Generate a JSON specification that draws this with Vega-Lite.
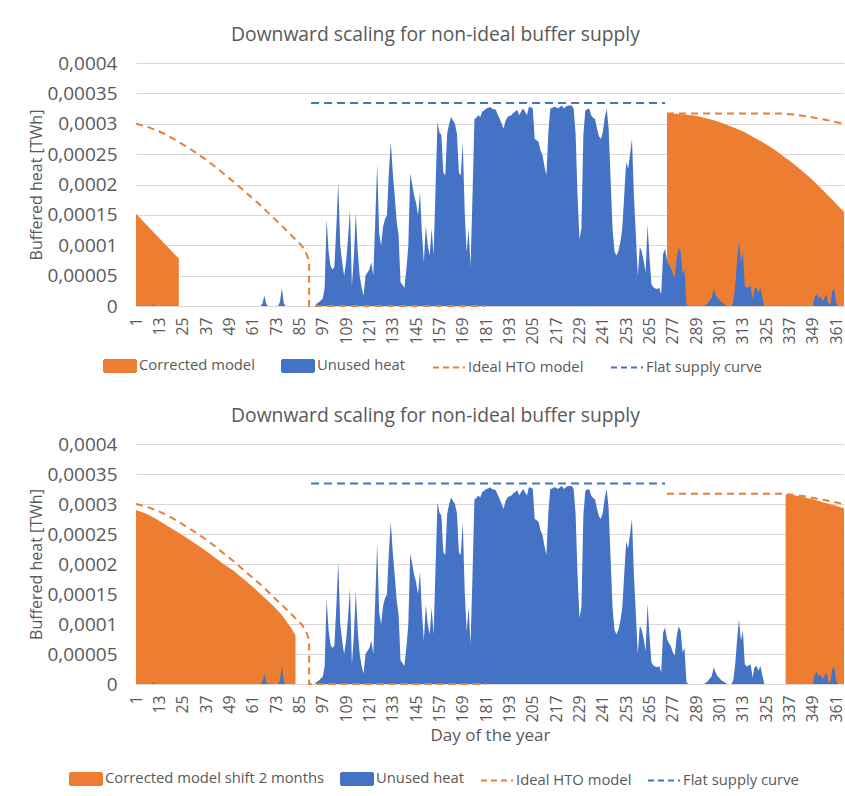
{
  "$schema": "https://vega.github.io/schema/vega-lite/v6.json",
  "background": "white",
  "padding": {"left": 28, "top": 25, "right": 0, "bottom": 0},
  "autosize": {"type": "pad"},
  "config": {
    "font": "Open Sans",
    "view": {"stroke": null},
    "axis": {"labelColor": "#595959", "titleColor": "#595959", "labelFont": "Open Sans", "titleFont": "Open Sans", "titleFontWeight": "normal", "gridColor": "#d9d9d9", "domainColor": "#d9d9d9", "ticks": false},
    "title": {"color": "#595959", "fontWeight": "normal", "fontSize": 19.3, "font": "Open Sans", "frame": "bounds", "anchor": "middle", "offset": 9, "dx": -3},
    "legend": {"labelColor": "#595959", "labelFont": "Open Sans", "labelFontSize": 14.8, "labelLimit": 400}
  },
  "datasets": {
    "unused": [
      {"d":1,"v":0},{"d":2,"v":0},{"d":3,"v":0},{"d":4,"v":0},{"d":5,"v":0},{"d":6,"v":0},{"d":7,"v":0},{"d":8,"v":0},{"d":9,"v":0},{"d":10,"v":0.3e-5},
      {"d":11,"v":0},{"d":12,"v":0},{"d":13,"v":0},{"d":14,"v":0},{"d":15,"v":0},{"d":16,"v":0},{"d":17,"v":0},{"d":18,"v":0},{"d":19,"v":0},{"d":20,"v":0},
      {"d":21,"v":0},{"d":22,"v":0},{"d":23,"v":0},{"d":24,"v":0},{"d":25,"v":0},{"d":26,"v":0},{"d":27,"v":0},{"d":28,"v":0},{"d":29,"v":0},{"d":30,"v":0},
      {"d":31,"v":0},{"d":32,"v":0},{"d":33,"v":0},{"d":34,"v":0},{"d":35,"v":0},{"d":36,"v":0},{"d":37,"v":0},{"d":38,"v":0},{"d":39,"v":0},{"d":40,"v":0},
      {"d":41,"v":0},{"d":42,"v":0},{"d":43,"v":0},{"d":44,"v":0},{"d":45,"v":0},{"d":46,"v":0},{"d":47,"v":0},{"d":48,"v":0},{"d":49,"v":0},{"d":50,"v":0},
      {"d":51,"v":0},{"d":52,"v":0},{"d":53,"v":0},{"d":54,"v":0},{"d":55,"v":0},{"d":56,"v":0},{"d":57,"v":0},{"d":58,"v":0},{"d":59,"v":0},{"d":60,"v":0},
      {"d":61,"v":0},{"d":62,"v":0},{"d":63,"v":0},{"d":64,"v":0},{"d":65,"v":0},{"d":66,"v":0.4e-5},{"d":67,"v":1.7e-5},{"d":68,"v":0.3e-5},{"d":69,"v":0},{"d":70,"v":0},
      {"d":71,"v":0},{"d":72,"v":0},{"d":73,"v":0},{"d":74,"v":0},{"d":75,"v":0.6e-5},{"d":76,"v":3.0e-5},{"d":77,"v":0.4e-5},{"d":78,"v":0},{"d":79,"v":0},{"d":80,"v":0},
      {"d":81,"v":0},{"d":82,"v":0},{"d":83,"v":0},{"d":84,"v":0},{"d":85,"v":0},{"d":86,"v":0},{"d":87,"v":0},{"d":88,"v":0},{"d":89,"v":0},{"d":90,"v":0},
      {"d":91,"v":0},{"d":92,"v":0},{"d":93,"v":0},{"d":94,"v":0.4e-5},{"d":95,"v":0.6e-5},{"d":96,"v":0.9e-5},{"d":97,"v":1.2e-5},{"d":98,"v":3.0e-5},{"d":99,"v":14.3e-5},{"d":100,"v":9.0e-5},
      {"d":101,"v":6.6e-5},{"d":102,"v":6.0e-5},{"d":103,"v":6.4e-5},{"d":104,"v":13e-5},{"d":105,"v":20.3e-5},{"d":106,"v":10e-5},{"d":107,"v":7.2e-5},{"d":108,"v":5.0e-5},{"d":109,"v":7.2e-5},{"d":110,"v":11e-5},
      {"d":111,"v":16.0e-5},{"d":112,"v":3.3e-5},{"d":113,"v":8e-5},{"d":114,"v":15.4e-5},{"d":115,"v":9e-5},{"d":116,"v":5.0e-5},{"d":117,"v":3e-5},{"d":118,"v":1.7e-5},{"d":119,"v":5.0e-5},{"d":120,"v":5.5e-5},
      {"d":121,"v":6e-5},{"d":122,"v":7.2e-5},{"d":123,"v":5e-5},{"d":124,"v":14e-5},{"d":125,"v":23.4e-5},{"d":126,"v":12e-5},{"d":127,"v":9.9e-5},{"d":128,"v":13e-5},{"d":129,"v":14.3e-5},{"d":130,"v":14.9e-5},
      {"d":131,"v":22e-5},{"d":132,"v":27.0e-5},{"d":133,"v":22e-5},{"d":134,"v":18.2e-5},{"d":135,"v":14e-5},{"d":136,"v":11.6e-5},{"d":137,"v":3.9e-5},{"d":138,"v":3.5e-5},{"d":139,"v":3.0e-5},{"d":140,"v":6e-5},
      {"d":141,"v":9.9e-5},{"d":142,"v":21.8e-5},{"d":143,"v":20e-5},{"d":144,"v":18.2e-5},{"d":145,"v":17e-5},{"d":146,"v":14.9e-5},{"d":147,"v":18.7e-5},{"d":148,"v":12e-5},{"d":149,"v":7.2e-5},{"d":150,"v":13.2e-5},
      {"d":151,"v":10e-5},{"d":152,"v":8.3e-5},{"d":153,"v":12.7e-5},{"d":154,"v":8.3e-5},{"d":155,"v":19.3e-5},{"d":156,"v":30.3e-5},{"d":157,"v":28.6e-5},{"d":158,"v":28.1e-5},{"d":159,"v":22.0e-5},{"d":160,"v":21.5e-5},
      {"d":161,"v":28.4e-5},{"d":162,"v":30e-5},{"d":163,"v":31.1e-5},{"d":164,"v":30.5e-5},{"d":165,"v":30.0e-5},{"d":166,"v":28.4e-5},{"d":167,"v":22.0e-5},{"d":168,"v":21.5e-5},{"d":169,"v":27.0e-5},{"d":170,"v":15.4e-5},
      {"d":171,"v":8.8e-5},{"d":172,"v":12.7e-5},{"d":173,"v":6.6e-5},{"d":174,"v":18e-5},{"d":175,"v":30.8e-5},{"d":176,"v":31.0e-5},{"d":177,"v":31.4e-5},{"d":178,"v":31.1e-5},{"d":179,"v":32.0e-5},{"d":180,"v":32.2e-5},
      {"d":181,"v":32.5e-5},{"d":182,"v":32.6e-5},{"d":183,"v":32.8e-5},{"d":184,"v":32.5e-5},{"d":185,"v":32.4e-5},{"d":186,"v":32.3e-5},{"d":187,"v":31.5e-5},{"d":188,"v":30.8e-5},{"d":189,"v":30e-5},{"d":190,"v":29.2e-5},
      {"d":191,"v":30.5e-5},{"d":192,"v":31.1e-5},{"d":193,"v":31.3e-5},{"d":194,"v":31.4e-5},{"d":195,"v":31.8e-5},{"d":196,"v":32.0e-5},{"d":197,"v":32.3e-5},{"d":198,"v":31.4e-5},{"d":199,"v":32e-5},{"d":200,"v":32.5e-5},
      {"d":201,"v":32e-5},{"d":202,"v":31.4e-5},{"d":203,"v":32.8e-5},{"d":204,"v":32.7e-5},{"d":205,"v":32.5e-5},{"d":206,"v":27.5e-5},{"d":207,"v":27.3e-5},{"d":208,"v":27.0e-5},{"d":209,"v":25.6e-5},{"d":210,"v":24.8e-5},
      {"d":211,"v":23e-5},{"d":212,"v":21.5e-5},{"d":213,"v":28.6e-5},{"d":214,"v":32.5e-5},{"d":215,"v":32.6e-5},{"d":216,"v":32.8e-5},{"d":217,"v":32.7e-5},{"d":218,"v":32.5e-5},{"d":219,"v":32.8e-5},{"d":220,"v":33.0e-5},
      {"d":221,"v":32.5e-5},{"d":222,"v":32.8e-5},{"d":223,"v":33.0e-5},{"d":224,"v":33.0e-5},{"d":225,"v":33.0e-5},{"d":226,"v":32.5e-5},{"d":227,"v":28.4e-5},{"d":228,"v":18.2e-5},{"d":229,"v":11.0e-5},{"d":230,"v":12.7e-5},
      {"d":231,"v":28.1e-5},{"d":232,"v":32.2e-5},{"d":233,"v":32.4e-5},{"d":234,"v":32.5e-5},{"d":235,"v":31.4e-5},{"d":236,"v":31e-5},{"d":237,"v":30.8e-5},{"d":238,"v":29.2e-5},{"d":239,"v":28e-5},{"d":240,"v":27.5e-5},
      {"d":241,"v":28.6e-5},{"d":242,"v":31e-5},{"d":243,"v":32.5e-5},{"d":244,"v":29.2e-5},{"d":245,"v":20.9e-5},{"d":246,"v":12.7e-5},{"d":247,"v":9e-5},{"d":248,"v":8.3e-5},{"d":249,"v":9.0e-5},{"d":250,"v":10.5e-5},
      {"d":251,"v":12.7e-5},{"d":252,"v":18.2e-5},{"d":253,"v":23.7e-5},{"d":254,"v":22.6e-5},{"d":255,"v":25e-5},{"d":256,"v":27.5e-5},{"d":257,"v":18.2e-5},{"d":258,"v":11.6e-5},{"d":259,"v":5.0e-5},{"d":260,"v":9.7e-5},
      {"d":261,"v":9.0e-5},{"d":262,"v":7.5e-5},{"d":263,"v":5.5e-5},{"d":264,"v":13.4e-5},{"d":265,"v":8.0e-5},{"d":266,"v":3.6e-5},{"d":267,"v":3.1e-5},{"d":268,"v":2.9e-5},{"d":269,"v":2.8e-5},{"d":270,"v":3.0e-5},
      {"d":271,"v":1.9e-5},{"d":272,"v":8.6e-5},{"d":273,"v":9.4e-5},{"d":274,"v":7.5e-5},{"d":275,"v":6.8e-5},{"d":276,"v":6.3e-5},{"d":277,"v":5.3e-5},{"d":278,"v":4.7e-5},{"d":279,"v":8e-5},{"d":280,"v":9.6e-5},
      {"d":281,"v":8.9e-5},{"d":282,"v":5.3e-5},{"d":283,"v":6.0e-5},{"d":284,"v":0.3e-5},{"d":285,"v":0},{"d":286,"v":0},{"d":287,"v":0},{"d":288,"v":0},{"d":289,"v":0},{"d":290,"v":0},
      {"d":291,"v":0},{"d":292,"v":0},{"d":293,"v":0},{"d":294,"v":0.2e-5},{"d":295,"v":0.5e-5},{"d":296,"v":0.9e-5},{"d":297,"v":1.3e-5},{"d":298,"v":2.8e-5},{"d":299,"v":1.9e-5},{"d":300,"v":1.3e-5},
      {"d":301,"v":1.0e-5},{"d":302,"v":0.6e-5},{"d":303,"v":0.4e-5},{"d":304,"v":0.2e-5},{"d":305,"v":0},{"d":306,"v":0},{"d":307,"v":0},{"d":308,"v":0.5e-5},{"d":309,"v":3e-5},{"d":310,"v":7.2e-5},
      {"d":311,"v":10.8e-5},{"d":312,"v":7.2e-5},{"d":313,"v":8.9e-5},{"d":314,"v":3.3e-5},{"d":315,"v":2.9e-5},{"d":316,"v":3.1e-5},{"d":317,"v":3.3e-5},{"d":318,"v":1.1e-5},{"d":319,"v":2.8e-5},{"d":320,"v":3.0e-5},
      {"d":321,"v":2.2e-5},{"d":322,"v":3.0e-5},{"d":323,"v":1.5e-5},{"d":324,"v":0},{"d":325,"v":0},{"d":326,"v":0},{"d":327,"v":0},{"d":328,"v":0},{"d":329,"v":0},{"d":330,"v":0},
      {"d":331,"v":0},{"d":332,"v":0},{"d":333,"v":0},{"d":334,"v":0},{"d":335,"v":0},{"d":336,"v":0},{"d":337,"v":0},{"d":338,"v":0},{"d":339,"v":0},{"d":340,"v":0},
      {"d":341,"v":0},{"d":342,"v":0},{"d":343,"v":0},{"d":344,"v":0},{"d":345,"v":0},{"d":346,"v":0},{"d":347,"v":0},{"d":348,"v":0},{"d":349,"v":0},{"d":350,"v":1.5e-5},
      {"d":351,"v":2.0e-5},{"d":352,"v":1.2e-5},{"d":353,"v":1.6e-5},{"d":354,"v":0.8e-5},{"d":355,"v":1.3e-5},{"d":356,"v":1.9e-5},{"d":357,"v":0.4e-5},{"d":358,"v":0.3e-5},{"d":359,"v":2.5e-5},{"d":360,"v":2.8e-5},
      {"d":361,"v":0.5e-5},{"d":362,"v":0},{"d":363,"v":0},{"d":364,"v":0},{"d":365,"v":0}
    ],
    "ideal": [
      {"d":1,"v":30.0e-5,"g":1,"o":1},{"d":6,"v":29.6e-5,"g":1,"o":2},{"d":11,"v":29.0e-5,"g":1,"o":3},{"d":16,"v":28.3e-5,"g":1,"o":4},{"d":21,"v":27.4e-5,"g":1,"o":5},
      {"d":26,"v":26.4e-5,"g":1,"o":6},{"d":31,"v":25.4e-5,"g":1,"o":7},{"d":36,"v":24.3e-5,"g":1,"o":8},{"d":41,"v":23.1e-5,"g":1,"o":9},{"d":46,"v":21.8e-5,"g":1,"o":10},
      {"d":51,"v":20.5e-5,"g":1,"o":11},{"d":56,"v":19.1e-5,"g":1,"o":12},{"d":61,"v":17.7e-5,"g":1,"o":13},{"d":66,"v":16.3e-5,"g":1,"o":14},{"d":71,"v":14.7e-5,"g":1,"o":15},
      {"d":76,"v":13.2e-5,"g":1,"o":16},{"d":81,"v":11.6e-5,"g":1,"o":17},{"d":86,"v":10.0e-5,"g":1,"o":18},{"d":88,"v":9.1e-5,"g":1,"o":19},{"d":90,"v":7.4e-5,"g":1,"o":20},
      {"d":90,"v":0,"g":1,"o":21},{"d":181,"v":0,"g":1,"o":22},
      {"d":274,"v":31.7e-5,"g":2,"o":23},{"d":333,"v":31.7e-5,"g":2,"o":24},{"d":340,"v":31.5e-5,"g":2,"o":25},{"d":348,"v":31.1e-5,"g":2,"o":26},{"d":356,"v":30.6e-5,"g":2,"o":27},{"d":365,"v":30.0e-5,"g":2,"o":28}
    ],
    "flat": [{"d":91,"v":33.4e-5},{"d":273,"v":33.4e-5}],
    "corrTop": [
      {"d":1,"v":15.2e-5,"g":1},{"d":23,"v":7.8e-5,"g":1},
      {"d":274,"v":31.7e-5,"g":2},{"d":279,"v":31.65e-5,"g":2},{"d":284,"v":31.5e-5,"g":2},{"d":289,"v":31.3e-5,"g":2},{"d":294,"v":30.9e-5,"g":2},
      {"d":299,"v":30.5e-5,"g":2},{"d":304,"v":29.9e-5,"g":2},{"d":309,"v":29.3e-5,"g":2},{"d":314,"v":28.6e-5,"g":2},{"d":319,"v":27.7e-5,"g":2},
      {"d":324,"v":26.8e-5,"g":2},{"d":329,"v":25.8e-5,"g":2},{"d":334,"v":24.6e-5,"g":2},{"d":339,"v":23.4e-5,"g":2},{"d":344,"v":22.1e-5,"g":2},
      {"d":349,"v":20.7e-5,"g":2},{"d":354,"v":19.1e-5,"g":2},{"d":359,"v":17.5e-5,"g":2},{"d":364,"v":15.8e-5,"g":2},{"d":365,"v":15.5e-5,"g":2}
    ],
    "corrBot": [
      {"d":1,"v":29.0e-5,"g":1},{"d":6,"v":28.4e-5,"g":1},{"d":11,"v":27.6e-5,"g":1},{"d":16,"v":26.6e-5,"g":1},{"d":21,"v":25.6e-5,"g":1},
      {"d":26,"v":24.6e-5,"g":1},{"d":31,"v":23.5e-5,"g":1},{"d":36,"v":22.4e-5,"g":1},{"d":41,"v":21.2e-5,"g":1},{"d":46,"v":20.0e-5,"g":1},
      {"d":51,"v":18.9e-5,"g":1},{"d":56,"v":17.6e-5,"g":1},{"d":61,"v":16.2e-5,"g":1},{"d":66,"v":14.7e-5,"g":1},{"d":71,"v":13.2e-5,"g":1},
      {"d":76,"v":11.5e-5,"g":1},{"d":81,"v":9.2e-5,"g":1},{"d":83,"v":8.1e-5,"g":1},
      {"d":335,"v":31.6e-5,"g":2},{"d":340,"v":31.4e-5,"g":2},{"d":345,"v":31.1e-5,"g":2},{"d":350,"v":30.7e-5,"g":2},{"d":355,"v":30.2e-5,"g":2},{"d":360,"v":29.8e-5,"g":2},{"d":365,"v":29.3e-5,"g":2}
    ]
  },
  "spacing": 30,
  "resolve": {"scale": {"color": "independent"}, "legend": {"color": "independent"}},
  "vconcat": [
    {
      "width": 708,
      "height": 243,
      "title": {"text": "Downward scaling for non-ideal buffer supply"},
      "encoding": {
        "x": {"field": "d", "type": "quantitative", "scale": {"domain": [1, 365], "nice": false, "zero": false},
              "axis": {"values": [1,13,25,37,49,61,73,85,97,109,121,133,145,157,169,181,193,205,217,229,241,253,265,277,289,301,313,325,337,349,361], "format": "d", "labelAngle": -90, "labelFontSize": 15.8, "labelPadding": 11, "grid": false, "labelOverlap": false, "labelFlush": false, "labelBound": false, "title": null}},
        "y": {"field": "v", "type": "quantitative", "stack": null, "scale": {"domain": [0, 0.0004], "nice": false},
              "axis": {"values": [0,0.00005,0.0001,0.00015,0.0002,0.00025,0.0003,0.00035,0.0004], "labelExpr": "replace(format(datum.value, '~g'), '.', ',')", "labelFontSize": 19, "labelPadding": 19, "titleFontSize": 16, "titlePadding": 2, "domain": false, "title": "Buffered heat [TWh]"}}
      },
      "layer": [
        {
          "data": {"name": "corrTop"},
          "mark": {"type": "area", "strokeWidth": 0},
          "encoding": {
            "detail": {"field": "g", "type": "nominal"},
            "color": {"datum": "Corrected model",
              "scale": {"domain": ["Corrected model", "Unused heat", "Ideal HTO model", "Flat supply curve"], "range": ["#ED7D31", "#4472C4", "#ED7D31", "#4472C4"]},
              "legend": {"title": null, "orient": "none", "legendX": -33, "legendY": 286, "direction": "horizontal", "columns": 4, "columnPadding": 23, "labelOffset": 2, "symbolSize": 1024, "symbolStrokeWidth": 2,
                "encode": {"symbols": {"update": {
                  "shape": {"signal": "(datum.value == 'Ideal HTO model' || datum.value == 'Flat supply curve') ? 'M-1,0H1' : 'M-1,-0.375H1V0.375H-1Z'"},
                  "fill": {"signal": "datum.value == 'Unused heat' ? '#4472C4' : ((datum.value == 'Ideal HTO model' || datum.value == 'Flat supply curve') ? 'transparent' : '#ED7D31')"},
                  "stroke": {"signal": "datum.value == 'Flat supply curve' ? '#4472C4' : (datum.value == 'Ideal HTO model' ? '#ED7D31' : 'transparent')"},
                  "strokeDash": {"signal": "(datum.value == 'Ideal HTO model' || datum.value == 'Flat supply curve') ? [6, 4] : [1, 0]"},
                  "strokeWidth": {"value": 2},
                  "opacity": {"value": 1}
                }}}}}
          }
        },
        {
          "data": {"name": "unused"},
          "mark": {"type": "area", "strokeWidth": 0},
          "encoding": {"color": {"datum": "Unused heat", "scale": {"domain": ["Corrected model", "Unused heat", "Ideal HTO model", "Flat supply curve"], "range": ["#ED7D31", "#4472C4", "#ED7D31", "#4472C4"]}}}
        },
        {
          "data": {"name": "ideal"},
          "mark": {"type": "line", "strokeWidth": 2, "strokeDash": [7, 5]},
          "encoding": {"detail": {"field": "g", "type": "nominal"}, "order": {"field": "o"}, "color": {"datum": "Ideal HTO model", "scale": {"domain": ["Corrected model", "Unused heat", "Ideal HTO model", "Flat supply curve"], "range": ["#ED7D31", "#4472C4", "#ED7D31", "#4472C4"]}}}
        },
        {
          "data": {"name": "flat"},
          "mark": {"type": "line", "strokeWidth": 2, "strokeDash": [8, 5]},
          "encoding": {"color": {"datum": "Flat supply curve", "scale": {"domain": ["Corrected model", "Unused heat", "Ideal HTO model", "Flat supply curve"], "range": ["#ED7D31", "#4472C4", "#ED7D31", "#4472C4"]}}}
        }
      ]
    },
    {
      "width": 708,
      "height": 240,
      "title": {"text": "Downward scaling for non-ideal buffer supply"},
      "encoding": {
        "x": {"field": "d", "type": "quantitative", "scale": {"domain": [1, 365], "nice": false, "zero": false},
              "axis": {"values": [1,13,25,37,49,61,73,85,97,109,121,133,145,157,169,181,193,205,217,229,241,253,265,277,289,301,313,325,337,349,361], "format": "d", "labelAngle": -90, "labelFontSize": 15.8, "labelPadding": 11, "grid": false, "labelOverlap": false, "labelFlush": false, "labelBound": false, "title": "Day of the year", "titleFontSize": 17, "titlePadding": 5}},
        "y": {"field": "v", "type": "quantitative", "stack": null, "scale": {"domain": [0, 0.0004], "nice": false},
              "axis": {"values": [0,0.00005,0.0001,0.00015,0.0002,0.00025,0.0003,0.00035,0.0004], "labelExpr": "replace(format(datum.value, '~g'), '.', ',')", "labelFontSize": 19, "labelPadding": 19, "titleFontSize": 16, "titlePadding": 2, "domain": false, "title": "Buffered heat [TWh]"}}
      },
      "layer": [
        {
          "data": {"name": "corrBot"},
          "mark": {"type": "area", "strokeWidth": 0},
          "encoding": {
            "detail": {"field": "g", "type": "nominal"},
            "color": {"datum": "Corrected model shift 2 months",
              "scale": {"domain": ["Corrected model shift 2 months", "Unused heat", "Ideal HTO model", "Flat supply curve"], "range": ["#ED7D31", "#4472C4", "#ED7D31", "#4472C4"]},
              "legend": {"title": null, "orient": "none", "legendX": -67, "legendY": 318, "direction": "horizontal", "columns": 4, "columnPadding": 12, "labelOffset": 2, "symbolSize": 1024, "symbolStrokeWidth": 2,
                "encode": {"symbols": {"update": {
                  "shape": {"signal": "(datum.value == 'Ideal HTO model' || datum.value == 'Flat supply curve') ? 'M-1,0H1' : 'M-1,-0.375H1V0.375H-1Z'"},
                  "fill": {"signal": "datum.value == 'Unused heat' ? '#4472C4' : ((datum.value == 'Ideal HTO model' || datum.value == 'Flat supply curve') ? 'transparent' : '#ED7D31')"},
                  "stroke": {"signal": "datum.value == 'Flat supply curve' ? '#4472C4' : (datum.value == 'Ideal HTO model' ? '#ED7D31' : 'transparent')"},
                  "strokeDash": {"signal": "(datum.value == 'Ideal HTO model' || datum.value == 'Flat supply curve') ? [6, 4] : [1, 0]"},
                  "strokeWidth": {"value": 2},
                  "opacity": {"value": 1}
                }}}}}
          }
        },
        {
          "data": {"name": "unused"},
          "mark": {"type": "area", "strokeWidth": 0},
          "encoding": {"color": {"datum": "Unused heat", "scale": {"domain": ["Corrected model shift 2 months", "Unused heat", "Ideal HTO model", "Flat supply curve"], "range": ["#ED7D31", "#4472C4", "#ED7D31", "#4472C4"]}}}
        },
        {
          "data": {"name": "ideal"},
          "mark": {"type": "line", "strokeWidth": 2, "strokeDash": [7, 5]},
          "encoding": {"detail": {"field": "g", "type": "nominal"}, "order": {"field": "o"}, "color": {"datum": "Ideal HTO model", "scale": {"domain": ["Corrected model shift 2 months", "Unused heat", "Ideal HTO model", "Flat supply curve"], "range": ["#ED7D31", "#4472C4", "#ED7D31", "#4472C4"]}}}
        },
        {
          "data": {"name": "flat"},
          "mark": {"type": "line", "strokeWidth": 2, "strokeDash": [8, 5]},
          "encoding": {"color": {"datum": "Flat supply curve", "scale": {"domain": ["Corrected model shift 2 months", "Unused heat", "Ideal HTO model", "Flat supply curve"], "range": ["#ED7D31", "#4472C4", "#ED7D31", "#4472C4"]}}}
        }
      ]
    }
  ]
}
